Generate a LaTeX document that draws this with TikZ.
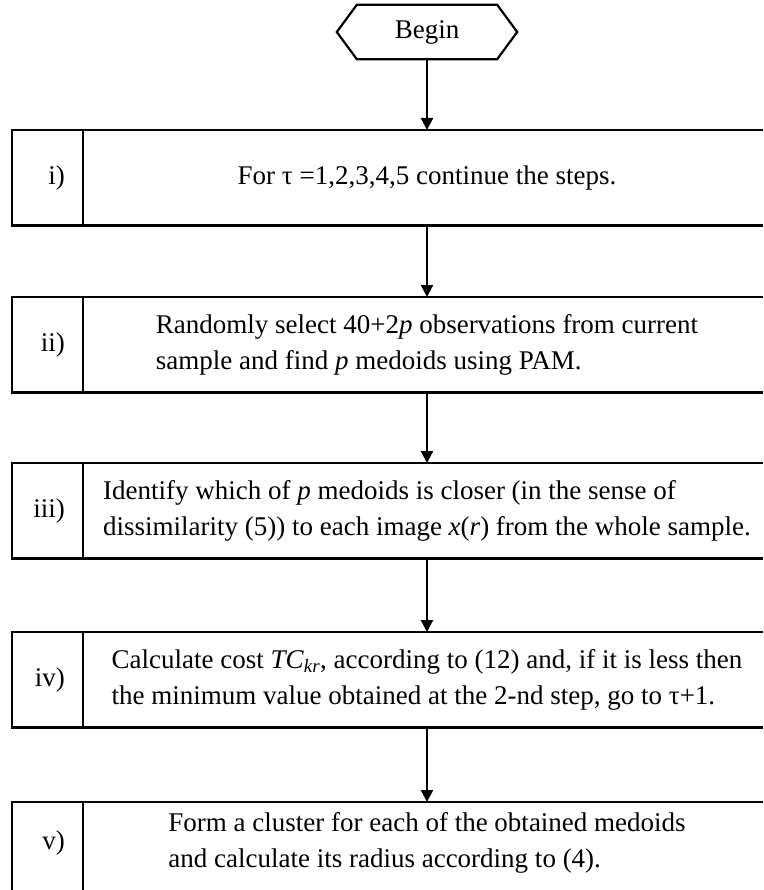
\documentclass[tikz,border=0pt]{standalone}
\usepackage{fontspec}
\setmainfont{Liberation Serif}
\usetikzlibrary{arrows.meta}
\begin{document}
\begin{tikzpicture}[x=1pt,y=-1pt,
  boxline/.style={line width=2.9pt, line join=miter},
  stepbox/.style={minimum width=751pt, minimum height=95pt, anchor=north west, inner sep=0pt},
  numlabel/.style={anchor=east, inner sep=0pt},
  steptext/.style={align=left, inner sep=0pt, anchor=center},
  flow/.style={line width=2.2pt, -{Triangle[length=12pt,width=12pt]}},
  font=\fontsize{27}{36}\selectfont]
\useasboundingbox (0,0) rectangle (763,890);
% Begin
\node[minimum width=180pt, minimum height=54pt, inner sep=0pt] (begin) at (427,32) {Begin};
\draw[line width=2.2pt, line join=miter] (begin.west) -- ([xshift=20pt]begin.north west) -- ([xshift=-20pt]begin.north east) -- (begin.east) -- ([xshift=-20pt]begin.south east) -- ([xshift=20pt]begin.south west) -- cycle;
% boxes
\node[stepbox] (s1) at (12,130) {};
\node[stepbox] (s2) at (12,297) {};
\node[stepbox] (s3) at (12,463) {};
\node[stepbox] (s4) at (12,632) {};
\node[stepbox, minimum height=88pt] (s5) at (12,802) {};
\foreach \s in {s1,s2,s3,s4}{
  \draw[boxline] (\s.north east) -- (\s.north west) -- (\s.south west) -- (\s.south east);
}
\draw[boxline] (s5.north east) -- (s5.north west) -- (s5.south west);
\foreach \s in {s1,s2,s3,s4,s5}{
  \draw[boxline] ([xshift=71pt]\s.north west) -- ([xshift=71pt]\s.south west);
}
% labels
\node[numlabel] (l1) at ([xshift=53pt]s1.west) {i)};
\node[numlabel] (l2) at ([xshift=53pt]s2.west) {ii)};
\node[numlabel] (l3) at ([xshift=53pt]s3.west) {iii)};
\node[numlabel] (l4) at ([xshift=53pt]s4.west) {iv)};
\node[numlabel] (l5) at ([xshift=53pt,yshift=3.5pt]s5.west) {v)};
% texts
\node[steptext] (t1) at (s1.center -| begin.center) {For τ =1,2,3,4,5 continue the steps.};
\node[steptext] (t2) at (s2.center -| begin.center) {Randomly select 40+2\textit{p} observations from current\\sample and find \textit{p} medoids using PAM.};
\node[steptext] (t3) at (s3.center -| begin.center) {Identify which of \textit{p} medoids is closer (in the sense of\\dissimilarity (5)) to each image \textit{x}(\textit{r}) from the whole sample.};
\node[steptext] (t4) at (s4.center -| begin.center) {Calculate cost \textit{TC}\textsubscript{\textit{kr}}, according to (12) and, if it is less then\\the minimum value obtained at the 2-nd step, go to τ+1.};
\node[steptext] (t5) at ([yshift=3.5pt]s5.center -| begin.center) {Form a cluster for each of the obtained medoids\\and calculate its radius according to (4).};
% connectors
\draw[flow] (begin.south) -- (s1.north -| begin.south);
\draw[flow] (s1.south -| begin.south) -- (s2.north -| begin.south);
\draw[flow] (s2.south -| begin.south) -- (s3.north -| begin.south);
\draw[flow] (s3.south -| begin.south) -- (s4.north -| begin.south);
\draw[flow] (s4.south -| begin.south) -- (s5.north -| begin.south);
\end{tikzpicture}
\end{document}
